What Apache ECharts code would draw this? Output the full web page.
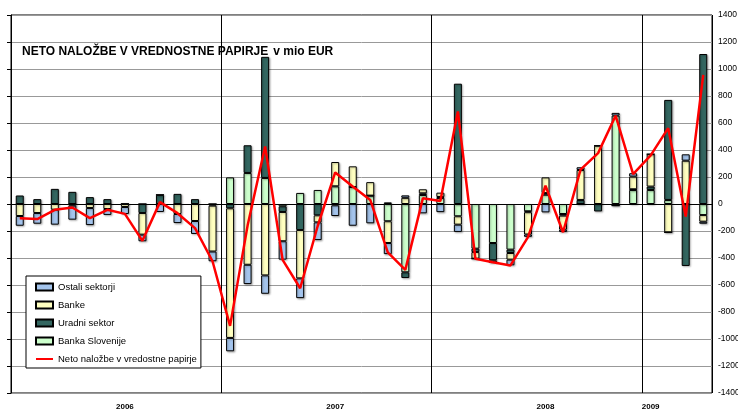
<!DOCTYPE html>
<html>
<head>
<meta charset="utf-8">
<script src="https://cdn.jsdelivr.net/npm/echarts@6/dist/echarts.min.js"></script>
<style>
  html, body { margin: 0; padding: 0; background: #fff; }
  #chart { width: 738px; height: 409px; }
</style>
</head>
<body>
<div id="chart"></div>
<script>
// mesečni podatki jan 2006 - apr 2009 (v mio EUR)
let months = []
for (let y = 2006; y <= 2009; y++) {
  for (let m = 1; m <= 12; m++) {
    if (y === 2009 && m > 4) break
    months.push(y + '-' + (m < 10 ? '0' + m : m))
  }
}
// oznake let pod osjo (indeks meseca -> leto)
let yearLabels = { 6: '2006', 18: '2007', 30: '2008', 36: '2009' }
let yearStarts = [12, 24, 36]

let ostali = [-72, -79, -111, -104, -126, -44, -52, -49, -59, -67, -96, -72,
  -99, -143, -136, -136, -146, -131, -79, -161, -143, -82, 18, -69,
  -60, -54, 0, 0, -42, -17, -62, -17, 20, 0, 20, 25,
  0, 0, 47, -15]
let banke = [-89, -67, -42, -12, -30, -37, -22, -160, 0, -74, -126, -340,
  -960, -450, -529, -217, -358, -52, 180, 153, 100, -161, 46, 30,
  32, -62, -49, -15, -49, -165, 116, -104, 222, 432, 0, 94,
  240, -210, 321, -49]
let uradni = [63, 36, 112, 90, 51, 36, 0, -67, 68, 75, 36, -12,
  -32, 205, 897, -42, -193, -84, -10, 0, 0, 12, -42, 12,
  7, 891, -25, -128, -25, -7, 12, -12, 30, -55, -12, 5,
  25, 741, -459, 1111]
let bankaSlo = [0, 0, 0, 0, 0, 0, 0, 0, 0, 0, 0, 0,
  197, 230, 193, -17, 82, 104, 131, 126, 62, -128, -506, 67,
  45, -91, -331, -289, -338, -54, 69, -74, 0, 0, 655, 104,
  104, 30, 0, -82]
let neto = [-105, -112, -43, -26, -105, -43, -73, -273, 14, -68, -179, -424,
  -903, -160, 426, -414, -624, -163, 234, 130, 30, -359, -488, 42,
  23, 686, -406, -431, -455, -245, 135, -209, 255, 377, 654, 222,
  360, 562, -93, 957]

let font = "'Liberation Sans', Arial, sans-serif"

function barSeries(name, data, color) {
  return {
    name: name,
    type: 'bar',
    stack: 'sum',
    barWidth: 8,
    data: data,
    itemStyle: {
      color: color,
      borderColor: '#000',
      borderWidth: 1,
      shadowColor: 'rgba(0,0,0,0.3)',
      shadowBlur: 2,
      shadowOffsetX: 1,
      shadowOffsetY: 1
    }
  }
}

let chart = echarts.init(document.getElementById('chart'), null, { renderer: 'canvas' })

let option = {
  backgroundColor: '#fff',
  animation: false,
  textStyle: { fontFamily: font },
  title: {
    left: 22,
    top: 43,
    padding: 0,
    text: '{b|NETO NALOŽBE V VREDNOSTNE PAPIRJE} {n|v mio EUR}',
    textStyle: {
      rich: {
        b: { fontFamily: font, fontSize: 12, fontWeight: 'bold', color: '#000' },
        n: { fontFamily: font, fontSize: 12, color: '#000' }
      }
    }
  },
  legend: {
    orient: 'vertical',
    left: 26,
    top: 276,
    padding: [5, 4, 3, 9],
    itemWidth: 17,
    itemHeight: 7,
    itemGap: 6,
    backgroundColor: '#fff',
    borderColor: '#000',
    borderWidth: 1,
    textStyle: { fontFamily: font, fontSize: 9.5, lineHeight: 12, color: '#000' },
    data: [
      { name: 'Ostali sektorji', icon: 'rect' },
      { name: 'Banke', icon: 'rect' },
      { name: 'Uradni sektor', icon: 'rect' },
      { name: 'Banka Slovenije', icon: 'rect' },
      { name: 'Neto naložbe v vredostne papirje', itemStyle: { opacity: 0 } }
    ]
  },
  grid: {
    left: 11,
    right: 26,
    top: 15,
    bottom: 16,
    outerBoundsMode: 'none',
    show: true,
    borderColor: '#000',
    borderWidth: 1
  },
  xAxis: {
    type: 'category',
    data: months,
    axisLine: { lineStyle: { color: '#000' } },
    axisTick: { show: false },
    axisLabel: {
      interval: 0,
      margin: 10,
      fontSize: 8,
      fontWeight: 'bold',
      color: '#000',
      formatter: function (v, i) { return yearLabels[i] || '' }
    },
    splitLine: {
      show: true,
      interval: function (i) { return yearStarts.indexOf(i) >= 0 },
      lineStyle: { color: '#000', width: 1 }
    }
  },
  yAxis: [
    {
      type: 'value',
      position: 'right',
      min: -1400,
      max: 1400,
      interval: 200,
      axisLine: { show: false },
      axisTick: { show: false },
      axisLabel: {
        margin: 6, fontSize: 8.5, color: '#000',
        formatter: function (v) { return String(v) }
      },
      splitLine: { lineStyle: { color: '#999', width: 1 } }
    },
    {
      type: 'value',
      position: 'left',
      min: -1400,
      max: 1400,
      interval: 200,
      axisLine: { show: true, lineStyle: { color: '#000' } },
      axisTick: { show: true, length: 4, lineStyle: { color: '#000' } },
      axisLabel: { show: false },
      splitLine: { show: false }
    }
  ],
  series: [
    barSeries('Banka Slovenije', bankaSlo, '#ccffcc'),
    barSeries('Uradni sektor', uradni, '#336660'),
    barSeries('Banke', banke, '#ffffc0'),
    barSeries('Ostali sektorji', ostali, '#a4c4ec'),
    {
      name: 'Neto naložbe v vredostne papirje',
      type: 'line',
      data: neto,
      symbol: 'none',
      z: 5,
      lineStyle: { color: '#ff0000', width: 2.5 },
      itemStyle: { color: '#ff0000' }
    }
  ]
}

chart.setOption(option)
</script>
</body>
</html>
